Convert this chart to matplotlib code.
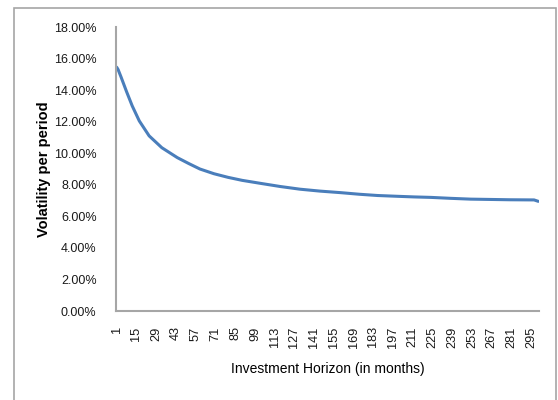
import matplotlib
matplotlib.use("Agg")
import matplotlib.pyplot as plt
from matplotlib.patches import Rectangle
from matplotlib.ticker import FuncFormatter

# Volatility per period by investment horizon (months 1..300)
months = [1, 2, 4, 8, 12, 17, 24, 33, 44, 52, 60, 70, 80, 90, 103, 117,
          131, 145, 160, 173, 186, 200, 212, 224, 238, 252, 266, 280, 297, 300]
volatility = [15.45, 15.3, 14.85, 13.9, 13.0, 12.05, 11.1, 10.35, 9.72, 9.35, 9.0,
              8.7, 8.47, 8.28, 8.09, 7.89, 7.72, 7.60, 7.50, 7.40, 7.32,
              7.27, 7.23, 7.20, 7.14, 7.09, 7.07, 7.05, 7.04, 6.95]
n_months = 300
tick_months = list(range(1, 296, 14))
y_ticks = [0, 2, 4, 6, 8, 10, 12, 14, 16, 18]

plt.rcParams['font.family'] = ['Liberation Sans', 'DejaVu Sans']

fig = plt.figure(figsize=(5.58, 4.0), dpi=100)
fig.patch.set_facecolor('white')

# chart-area frame
fig.patches.append(Rectangle((14 / 558, -0.05), (556 - 14) / 558, (400 - 8) / 400 + 0.05,
                             transform=fig.transFigure, fill=False,
                             edgecolor='#a6a6a6', linewidth=1.2))

ax = fig.add_axes([116 / 558, (400 - 311) / 400, (539 - 116) / 558, (311 - 27) / 400])

ax.plot([m - 1 for m in months], volatility, color='#4a7ebb', linewidth=2.2,
        solid_joinstyle='round', solid_capstyle='round')

ax.set_xlim(-0.5, n_months - 0.5)
ax.set_ylim(0, 18)
ax.set_yticks(y_ticks)
ax.yaxis.set_major_formatter(FuncFormatter(lambda v, p: f"{v:.2f}%"))
ax.set_xticks([m - 1 for m in tick_months])
ax.set_xticklabels([str(m) for m in tick_months], rotation=90, va='top', ha='center')

for s in ['top', 'right']:
    ax.spines[s].set_visible(False)
for s in ['left', 'bottom']:
    ax.spines[s].set_color('#a6a6a6')
    ax.spines[s].set_linewidth(1.5)

ax.tick_params(axis='x', length=0, pad=11, labelsize=9.2, colors='#1a1a1a')
ax.tick_params(axis='y', length=0, pad=14, labelsize=9.0, colors='#1a1a1a')

ax.set_ylabel("Volatility per period", fontsize=10.5, fontweight='bold')
ax.set_xlabel("Investment Horizon (in months)", fontsize=10)
ax.yaxis.set_label_coords((44 - 116) / 423, 0.5)
ax.xaxis.set_label_coords(0.5, (311 - 369) / 284)
ax.xaxis.label.set_va('center')
ax.yaxis.label.set_va('center')

fig.savefig("out.png", dpi=100, facecolor='white')
